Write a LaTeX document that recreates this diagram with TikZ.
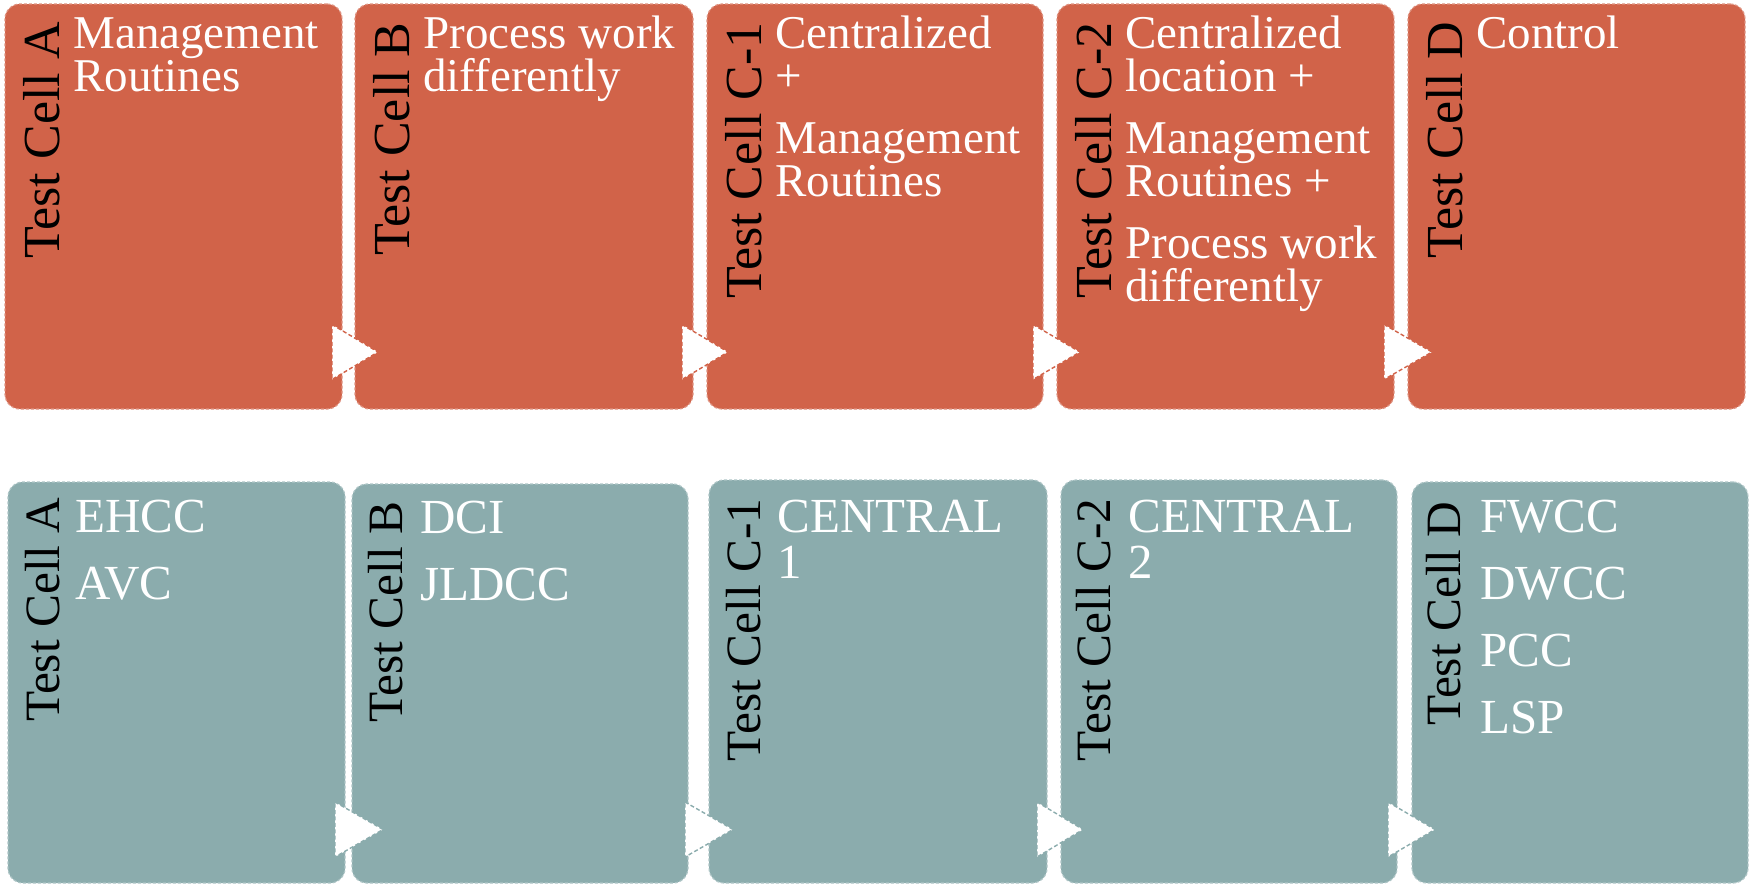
\documentclass[tikz,border=0pt]{standalone}
\usepackage{fontspec}
\setmainfont{Liberation Serif}
\usetikzlibrary{calc}

\definecolor{rust}{HTML}{D16349}
\definecolor{sage}{HTML}{8BACAD}

% stacked lines whose reference point is the first baseline
\newcommand\stack[2]{\vtop{\baselineskip=#1\lineskiplimit=-\maxdimen #2}}
% white chevron between two neighbouring cells
\newcommand\chev[4]{%
  \filldraw[chevron=#4] (#1,#3-27.5) -- (#2,#3) -- (#1,#3+27.5) -- cycle;}

\tikzset{
  cell/.style={rectangle, rounded corners=7.5pt, inner sep=0pt, outer sep=0pt,
    anchor=north west, fill=#1, draw=#1!70!white, line width=0.6pt,
    dash pattern=on 1.5pt off 1pt},
  chevron/.style={fill=white, draw=#1, line width=0.7pt,
    dash pattern=on 2pt off 1.2pt},
  vtop/.style={rotate=90, anchor=base east, inner sep=0pt, text=black,
    font=\fontsize{26}{26}\selectfont},
  vbot/.style={rotate=90, anchor=base east, inner sep=0pt, text=black,
    font=\fontsize{24.7}{24.7}\selectfont},
  ttop/.style={anchor=base west, inner sep=0pt, text=white,
    font=\fontsize{23.5}{21.5}\selectfont},
  tbot/.style={anchor=base west, inner sep=0pt, text=white,
    font=\fontsize{24.5}{23}\selectfont},
}

\begin{document}
\begin{tikzpicture}[x=0.5pt, y=-0.5pt]
\useasboundingbox (0,0) rectangle (1750,885);

% ---------- upper row: interventions ----------
\node[cell=rust, minimum width=168.5pt, minimum height=202.5pt] (tA)  at (5,4)    {};
\node[cell=rust, minimum width=169pt,   minimum height=202.5pt] (tB)  at (355,4)  {};
\node[cell=rust, minimum width=168pt,   minimum height=202.5pt] (tC1) at (707,4)  {};
\node[cell=rust, minimum width=168.5pt, minimum height=202.5pt] (tC2) at (1057,4) {};
\node[cell=rust, minimum width=168.5pt, minimum height=202.5pt] (tD)  at (1408,4) {};

\chev{332}{378}{352}{rust}
\chev{682}{728}{352}{rust}
\chev{1033}{1080}{352}{rust}
\chev{1384}{1432}{352}{rust}

\node[vtop] (tAv)  at ($(tA.north west)+(54,18)$)  {Test Cell A};
\node[vtop] (tBv)  at ($(tB.north west)+(54,18)$)  {Test Cell B};
\node[vtop] (tC1v) at ($(tC1.north west)+(54,18)$) {Test Cell C-1};
\node[vtop] (tC2v) at ($(tC2.north west)+(54,18)$) {Test Cell C-2};
\node[vtop] (tDv)  at ($(tD.north west)+(54,18)$)  {Test Cell D};

\node[ttop] (tAt) at ($(tA.north west)+(68,44)$)
  {\stack{21.5pt}{\hbox{Management}\hbox{Routines}}};
\node[ttop] (tBt) at ($(tB.north west)+(68,44)$)
  {\stack{21.5pt}{\hbox{Process work}\hbox{differently}}};
\node[ttop] (tC1t) at ($(tC1.north west)+(68,44)$)
  {\stack{21.5pt}{\hbox{Centralized}\hbox{+}\vskip9.5pt
   \hbox{Management}\hbox{Routines}}};
\node[ttop] (tC2t) at ($(tC2.north west)+(68,44)$)
  {\stack{21.5pt}{\hbox{Centralized}\hbox{location +}\vskip9.5pt
   \hbox{Management}\hbox{Routines +}\vskip9.5pt
   \hbox{Process work}\hbox{differently}}};
\node[ttop] (tDt) at ($(tD.north west)+(68,44)$) {Control};

% ---------- lower row: sites ----------
\node[cell=sage, minimum width=168.5pt, minimum height=200.5pt] (bA)  at (8,482)    {};
\node[cell=sage, minimum width=168pt,   minimum height=199.5pt] (bB)  at (352,484)  {};
\node[cell=sage, minimum width=169pt,   minimum height=201.5pt] (bC1) at (709,480)  {};
\node[cell=sage, minimum width=168pt,   minimum height=201.5pt] (bC2) at (1061,480) {};
\node[cell=sage, minimum width=168pt,   minimum height=200.5pt] (bD)  at (1412,482) {};

\chev{335}{383}{829.5}{sage}
\chev{685}{733}{829.5}{sage}
\chev{1037}{1083}{829.5}{sage}
\chev{1388}{1435}{829.5}{sage}

\node[vbot] (bAv)  at ($(bA.north west)+(51,15)$)  {Test Cell A};
\node[vbot] (bBv)  at ($(bB.north west)+(50,17)$)  {Test Cell B};
\node[vbot] (bC1v) at ($(bC1.north west)+(51,18)$) {Test Cell C-1};
\node[vbot] (bC2v) at ($(bC2.north west)+(49,18)$) {Test Cell C-2};
\node[vbot] (bDv)  at ($(bD.north west)+(48,19)$)  {Test Cell D};

\node[tbot] (bAt) at ($(bA.north west)+(67,50)$)
  {\stack{23pt}{\hbox{EHCC}\vskip10.5pt\hbox{AVC}}};
\node[tbot] (bBt) at ($(bB.north west)+(68,49)$)
  {\stack{23pt}{\hbox{DCI}\vskip10.5pt\hbox{JLDCC}}};
\node[tbot] (bC1t) at ($(bC1.north west)+(68,52)$)
  {\stack{23pt}{\hbox{CENTRAL}\hbox{1}}};
\node[tbot] (bC2t) at ($(bC2.north west)+(67,52)$)
  {\stack{23pt}{\hbox{CENTRAL}\hbox{2}}};
\node[tbot] (bDt) at ($(bD.north west)+(68,50)$)
  {\stack{23pt}{\hbox{FWCC}\vskip10.5pt\hbox{DWCC}\vskip10.5pt
   \hbox{PCC}\vskip10.5pt\hbox{LSP}}};
\end{tikzpicture}
\end{document}
